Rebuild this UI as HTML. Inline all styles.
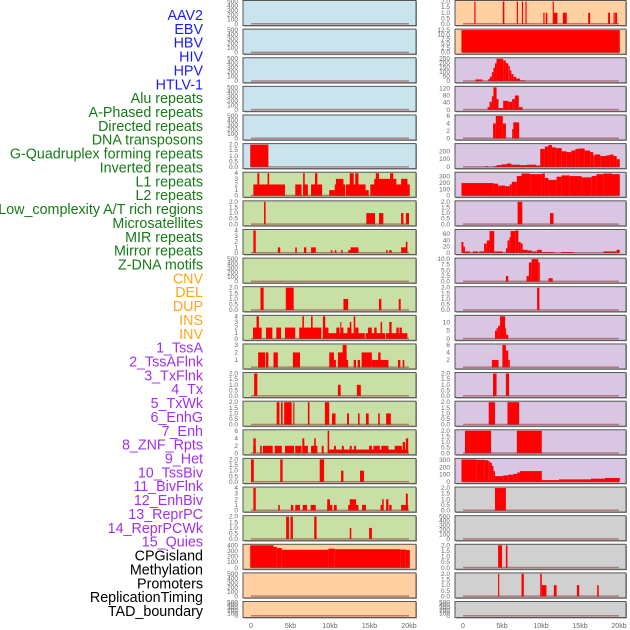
<!DOCTYPE html>
<html><head><meta charset="utf-8"><style>
body{margin:0;background:#fff;}
svg{display:block;font-family:"Liberation Sans",sans-serif;}
</style></head><body>
<svg id="chart" width="630" height="630" viewBox="0 0 630 630" xmlns="http://www.w3.org/2000/svg"></svg>
<script>
const labelNames = ["AAV2","EBV","HBV","HIV","HPV","HTLV-1","Alu repeats","A-Phased repeats","Directed repeats","DNA transposons","G-Quadruplex forming repeats","Inverted repeats","L1 repeats","L2 repeats","Low_complexity A/T rich regions","Microsatellites","MIR repeats","Mirror repeats","Z-DNA motifs","CNV","DEL","DUP","INS","INV","1_TssA","2_TssAFlnk","3_TxFlnk","4_Tx","5_TxWk","6_EnhG","7_Enh","8_ZNF_Rpts","9_Het","10_TssBiv","11_BivFlnk","12_EnhBiv","13_ReprPC","14_ReprPCWk","15_Quies","CPGisland","Methylation","Promoters","ReplicationTiming","TAD_boundary"];
const labelColors = ["#1a1aff","#1a1aff","#1a1aff","#1a1aff","#1a1aff","#1a1aff","#177a17","#177a17","#177a17","#177a17","#177a17","#177a17","#177a17","#177a17","#177a17","#177a17","#177a17","#177a17","#177a17","#ffa51a","#ffa51a","#ffa51a","#ffa51a","#ffa51a","#a030f0","#a030f0","#a030f0","#a030f0","#a030f0","#a030f0","#a030f0","#a030f0","#a030f0","#a030f0","#a030f0","#a030f0","#a030f0","#a030f0","#a030f0","#000","#000","#000","#000","#000"];
const xTickValues = [0,5,10,15,20];
const xTickLabels = ["0","5kb","10kb","15kb","20kb"];
const T500 = [0,100,200,300,400,500];
const T2 = [0,0.5,1.0,1.5,2.0];
const T4 = [0,1,2,3,4];
// segments: [startKb, endKb, value]
const L5 = [[-0.1,2.2,2]];
const L6 = [[0.3,4.3,2],[0.8,1.05,4],[2.1,2.3,4],[5.6,6.4,2],[6.6,7.2,2],[6.6,6.8,4],[7.6,9.0,2],[8.1,8.4,4],[9.9,10.6,1],[10.6,11.9,2],[10.75,11.7,3],[12.0,14.5,2],[12.5,13.0,4],[13.2,13.6,4],[14.5,14.9,1],[15.1,20.1,2],[15.6,18.4,3],[15.8,16.2,4],[17.6,18.0,4],[19.0,19.8,3]];
const L7 = [[1.65,1.85,2],[14.6,15.7,1],[16.2,16.75,1],[19.0,19.3,1],[19.6,20.0,1]];
const L8 = [[0.3,0.6,4],[3.4,3.7,1],[5.6,5.8,1],[6.7,7.0,1],[7.6,8.2,1],[10.1,10.3,0.5],[10.6,10.8,0.5],[11.4,11.6,0.5],[12.3,13.6,0.5],[12.6,13.6,1],[17.1,17.3,0.5],[17.5,17.8,0.5],[19.0,19.8,1],[19.6,19.8,2]];
const L10 = [[1.2,1.6,2],[4.4,5.4,2],[11.7,12.3,1],[16.2,16.5,1],[18.7,18.95,1]];
const L11 = [[0.25,1.35,2],[0.7,1.0,4],[1.9,2.7,2],[3.2,3.8,2],[4.3,5.6,2],[6.1,8.9,2],[6.5,6.7,4],[7.6,7.8,4],[9.1,9.8,2],[9.1,9.4,4],[9.8,14.4,1],[10.8,11.2,2],[11.3,11.4,3],[11.4,11.7,2],[12.2,12.7,2],[12.5,12.7,3],[13.0,13.2,4],[13.2,13.6,2],[14.5,17.0,1],[14.8,15.3,2],[15.6,15.9,2],[16.4,16.6,3],[17.1,19.8,1],[17.5,17.8,3],[18.4,18.7,2],[18.8,19.1,2]];
const L12 = [[0.9,1.8,2],[1.9,2.2,2],[2.85,3.4,2],[5.3,6.2,2],[9.9,10.5,2],[10.5,10.75,1],[11.0,12.3,1],[11.0,12.1,2],[11.6,12.1,3],[13.0,13.3,1],[13.5,13.8,1],[14.0,15.3,2],[15.3,17.4,1],[16.1,16.4,2],[18.6,18.9,1],[19.2,19.4,1]];
const L13 = [[0.4,0.8,2],[11.0,11.35,1],[13.4,13.9,1]];
const L14 = [[3.25,3.6,2],[3.8,4.0,2],[4.2,5.15,2],[5.35,5.5,2],[7.2,7.4,2],[9.35,9.9,2],[10.25,10.7,1],[12.15,12.4,1],[13.55,13.75,1],[14.55,14.9,1],[16.1,16.3,1],[17.1,17.7,1]];
const L15 = [[0.3,0.6,4],[0.3,0.6,2],[1.15,1.35,2],[1.5,2.75,2],[3.0,3.9,2],[4.3,5.45,2],[5.6,6.4,2],[6.5,6.75,4],[6.5,7.2,2],[8.0,8.2,4],[7.6,8.4,2],[8.95,9.2,2],[9.7,9.9,6],[9.8,19.9,1],[10.5,10.75,2],[11.5,11.75,2],[12.5,12.75,2],[13.05,13.3,2],[14.95,15.3,2],[15.5,16.3,2],[16.5,17.4,2],[18.2,19.1,2],[19.2,19.5,3],[19.6,19.9,4]];
const L16 = [[0,0.35,2],[3.7,4.0,2],[8.7,9.25,2],[11.4,11.7,1],[13.8,14.3,1]];
const L17 = [[0.3,0.6,4],[3.45,3.65,1],[5.05,5.35,1],[5.6,6.2,1],[6.55,7.1,1],[7.55,8.2,1],[9.65,10.0,2],[9.65,10.3,1],[10.5,10.85,1],[12.3,13.6,1],[12.5,13.3,2],[14.05,14.55,1],[16.4,16.75,1],[16.6,16.8,2],[17.1,17.4,2],[17.5,17.8,1],[19.0,19.9,1],[19.6,19.85,3]];
const L18 = [[4.45,4.8,2],[5.0,5.3,2],[8.0,8.3,2],[12.5,12.7,1],[14.95,15.3,1]];
const L19 = [[-0.1,2.85,400],[2.85,3.25,370],[3.25,3.9,350],[3.9,9.8,320],[9.8,10.6,340],[10.6,18.9,330],[18.9,19.6,325],[19.6,20.1,315]];
const R0 = [[1.45,1.6,2],[5.1,5.3,2],[6.9,7.05,2],[7.55,7.7,2],[8.0,8.15,2],[11.5,11.65,2],[10.3,10.45,1],[10.6,10.8,1],[11.65,12.1,1],[12.8,13.3,1],[16.05,16.3,1],[18.6,18.85,1],[19.3,19.45,1],[19.5,19.75,1]];
const R1 = [[-0.2,20.1,12.5]];
const R2 = [[1.6,2.5,20],[3.25,3.45,25],[3.45,3.7,50],[3.7,3.9,100],[3.9,4.1,150],[4.1,4.3,200],[4.3,5.15,250],[5.15,5.5,230],[5.5,5.8,200],[5.8,6.0,170],[6.0,6.2,120],[6.2,6.45,80],[6.45,6.8,50],[6.8,7.3,30],[7.3,7.95,10]];
const R3 = [[3.15,3.4,15],[3.4,3.7,45],[3.7,3.9,75],[3.9,4.3,125],[4.3,4.55,60],[4.55,5.15,10],[5.15,5.8,50],[5.8,6.3,45],[6.3,6.65,60],[6.65,7.15,80],[7.15,7.65,15]];
const R4 = [[3.85,4.2,4],[4.2,5.1,6],[5.1,5.5,4],[6.3,6.45,2.5],[6.45,7.2,4.3]];
const R5 = [[2.8,3.25,10],[3.9,4.3,10],[4.3,4.95,25],[4.95,5.6,35],[5.6,6.2,45],[6.2,7.3,30],[7.3,8.2,25],[8.2,9.35,30],[9.35,9.9,20],[9.9,10.5,230],[10.5,10.95,260],[10.95,11.4,280],[11.4,11.9,250],[11.9,12.65,240],[12.65,13.3,200],[13.3,13.9,190],[13.9,14.4,210],[14.4,14.8,230],[14.8,15.6,235],[15.6,16.3,210],[16.3,16.7,190],[16.7,16.9,150],[16.9,17.6,160],[17.6,18.4,140],[18.4,18.9,150],[18.9,19.3,160],[19.3,19.7,140],[19.7,20.1,100]];
const R6 = [[-0.2,3.9,200],[3.9,4.5,190],[4.5,5.4,160],[5.4,6.0,150],[6.0,6.25,180],[6.25,6.9,220],[6.9,7.5,310],[7.5,8.6,350],[8.6,10.1,340],[10.1,10.5,350],[10.5,10.95,280],[10.95,12.0,250],[12.0,12.65,300],[12.65,13.7,320],[13.7,15.2,310],[15.2,16.5,290],[16.5,17.1,310],[17.1,18.0,340],[18.0,19.1,350],[19.1,20.1,340]];
const R7 = [[7.0,7.6,2],[11.15,11.6,1]];
const R8 = [[-0.2,0.05,35],[0.05,0.25,20],[0.25,0.9,5],[1.25,1.95,5],[2.1,2.7,5],[2.7,3.05,30],[3.05,3.4,40],[3.4,4.0,70],[4.0,5.1,5],[5.5,5.7,15],[5.7,5.95,40],[5.95,6.1,50],[6.1,6.7,70],[6.7,7.1,72],[7.1,7.4,35],[7.4,7.65,30],[7.65,8.3,10],[8.3,8.8,8],[8.8,9.45,5],[9.5,10.1,10],[10.1,11.7,3],[12.6,14.2,3],[18.0,19.7,5],[19.7,20.1,10]];
const R9 = [[5.5,5.8,2.5],[8.15,8.45,2.5],[8.45,8.8,8.5],[8.8,9.65,10],[9.65,9.85,8.5],[10.95,11.5,1.5]];
const R10 = [[9.5,9.8,2]];
const R11 = [[4.1,4.3,5],[4.3,4.5,6.5],[4.5,4.75,8],[4.75,5.4,13.8],[5.4,5.5,6.5],[5.5,5.8,2.5]];
const R12 = [[3.7,4.55,2],[5.05,5.5,6],[5.5,5.8,4.5],[5.8,6.0,2]];
const R13 = [[3.85,4.3,2],[5.5,5.9,2]];
const R14 = [[3.3,4.1,2],[5.7,7.2,2]];
const R15 = [[0.25,3.6,2],[6.9,10.1,2]];
const R16 = [[-0.2,1.75,310],[1.75,2.8,305],[2.8,3.25,300],[3.25,3.45,285],[3.45,3.7,265],[3.7,3.9,220],[3.9,4.1,150],[4.1,5.15,80],[5.15,5.8,90],[5.8,6.45,100],[6.45,6.95,110],[6.95,7.3,130],[7.3,10.1,150],[10.1,12.3,25],[12.3,16.4,35],[16.4,18.2,45],[18.2,20.1,55]];
const R17 = [[4.1,5.5,2]];
const R19 = [[4.5,5.0,2],[5.5,5.7,2]];
const R20 = [[4.5,4.65,2],[7.5,7.8,2],[9.9,10.1,2],[10.1,10.7,1],[11.65,12.0,1],[14.6,14.9,1],[17.2,17.4,1]];

const BLUE="#c9e4ec",GREEN="#c8e0a6",PEACH="#ffd0a2",PURPLE="#d8c6e2",GREY="#d0d0d0";
const leftPanels = [
 [BLUE,500,T500,[]],[BLUE,500,T500,[]],[BLUE,500,T500,[]],[BLUE,500,T500,[]],[BLUE,500,T500,[]],
 [BLUE,2,T2,L5],[GREEN,4,T4,L6],[GREEN,2,T2,L7],[GREEN,4,T4,L8],[GREEN,500,T500,[]],
 [GREEN,2,T2,L10],[GREEN,4,T4,L11],[GREEN,3,[1,2,3],L12],[GREEN,2,T2,L13],[GREEN,2,T2,L14],
 [GREEN,6,[0,2,4,6],L15],[GREEN,2,T2,L16],[GREEN,4,T4,L17],[GREEN,2,T2,L18],
 [PEACH,400,[0,100,200,300,400],L19],[PEACH,500,T500,[]],[PEACH,500,T500,[]]
];
const rightPanels = [
 [PEACH,2,T2,R0],[PEACH,12.5,[0,2.5,5,7.5,10,12.5],R1],[PURPLE,250,[0,50,100,150,200,250],R2],
 [PURPLE,125,[0,40,80,120],R3],[PURPLE,6,[0,2,4,6],R4],[PURPLE,285,[0,100,200],R5],
 [PURPLE,355,[0,100,200,300],R6],[PURPLE,2,T2,R7],[PURPLE,72,[0,20,40,60],R8],
 [PURPLE,10,[0,2.5,5,7.5,10],R9],[PURPLE,2,T2,R10],[PURPLE,13.8,[0,5,10],R11],
 [PURPLE,6,[2,4,6],R12],[PURPLE,2,T2,R13],[PURPLE,2,T2,R14],[PURPLE,2,T2,R15],
 [PURPLE,311,[0,100,200,300],R16],[GREY,2,T2,R17],[GREY,500,T500,[]],[GREY,2,T2,R19],
 [GREY,2,T2,R20],[GREY,500,T500,[]]
];

const NS="http://www.w3.org/2000/svg";
const svg=document.getElementById('chart');
function mk(tag,attrs,parent){const e=document.createElementNS(NS,tag);for(const k in attrs)e.setAttribute(k,attrs[k]);(parent||svg).appendChild(e);return e;}

labelNames.forEach((n,i)=>{
  const t=mk('text',{x:203,y:20+i*13.86,'text-anchor':'end','font-size':'14.3',fill:labelColors[i]});
  t.textContent=n;
  
  
});

const PITCH=28.62;
function drawColumn(panels,left,right,x0,pxPerKb,side){
  panels.forEach((p,i)=>{
    const [bg,ymax,ticks,segs]=p;
    const top=i*PITCH+0.5;
    const h=(i===panels.length-1)?16:25;
    const g=mk('g',{});
    
    
    mk('rect',{x:left+1,y:top+1,width:right-left,height:h,fill:'#999'},g);
    mk('rect',{x:left,y:top,width:right-left,height:h,fill:bg,stroke:'#555','stroke-width':1},g);
    const y0=top+h-1.5, y1=top+1;
    const ys=v=>y0-(v/ymax)*(y0-y1);
    const xs=kb=>x0+kb*pxPerKb;
    segs.forEach(s=>{
      const r=mk('rect',{x:xs(s[0]),y:ys(s[2]),width:Math.max(1,xs(s[1])-xs(s[0])),height:y0-ys(s[2]),fill:'#ff0000'},g);
      
      
    });
    mk('rect',{x:xs(0),y:y0-1,width:xs(20)-xs(0),height:1.5,fill:'rgba(150,50,50,0.55)'},g);
    const dec=ticks.some(t=>t%1!==0)||(ymax<=2);
    ticks.forEach(t=>{
      const lbl=mk('text',{x:left-5,y:ys(t)+2,'text-anchor':'end','font-size':'6.5',fill:'#666'},g);
      lbl.textContent=dec?t.toFixed(1):String(t);
      
      
    });
  });
  xTickValues.forEach((v,k)=>{
    const t=mk('text',{x:x0+v*pxPerKb,y:628,'text-anchor':'middle','font-size':'7',fill:'#666'});
    t.textContent=xTickLabels[k];
    
    
  });
}
drawColumn(leftPanels,243,416,251,7.9,'left');
drawColumn(rightPanels,455,626,463,7.8,'right');
</script>
</body></html>
